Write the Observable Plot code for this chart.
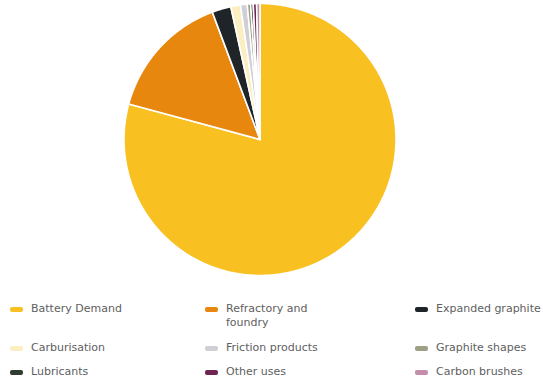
<!DOCTYPE html>
<html>
<head>
<meta charset="utf-8">
<script src="https://cdn.jsdelivr.net/npm/d3@7"></script>
<script src="https://cdn.jsdelivr.net/npm/@observablehq/plot@0.6"></script>
<style>
  html, body { margin: 0; padding: 0; background: #fff; }
  #wrap { position: relative; width: 543px; height: 380px; overflow: hidden; font-family: "DejaVu Sans", sans-serif; }
  #legend { position: absolute; left: 0; top: 0; width: 543px; }
  .item { position: absolute; font-size: 11px; line-height: 14px; color: #606060; white-space: nowrap; }
  .sw { position: absolute; width: 13px; height: 5px; border-radius: 2px; top: 5px; }
  .lbl { position: absolute; left: 21px; top: 0; }
</style>
</head>
<body>
<div id="wrap"><div id="chart"></div><div id="legend"></div></div>
<script>
// Graphite end uses (share of demand, %)
const categories = ["Battery Demand", "Refractory and foundry", "Expanded graphite", "Carburisation", "Friction products", "Graphite shapes", "Lubricants", "Other uses", "Carbon brushes"];
const shares = [79.2, 15.1, 2.25, 1.15, 0.8, 0.4, 0.3, 0.4, 0.4];
const colors = ["#F9C022", "#E8870E", "#1F2429", "#FBEFC2", "#D0CFD6", "#9DA084", "#2F3D31", "#6E2552", "#C48DAA"];
// legend label lines
const legendLines = [["Battery Demand"], ["Refractory and", "foundry"], ["Expanded graphite"], ["Carburisation"], ["Friction products"], ["Graphite shapes"], ["Lubricants"], ["Other uses"], ["Carbon brushes"]];

const data = categories.map((name, i) => ({name, value: shares[i]}));
const arcs = d3.pie().sort(null).value(d => d.value)(data);

// build slice polygons in a unit-circle plane (y up), 0 = 12 o'clock, clockwise
const pt = a => [Math.sin(a), Math.cos(a)];
const features = arcs.map(a => {
  const ring = [[0, 0]];
  const n = Math.max(2, Math.ceil((a.endAngle - a.startAngle) / 0.008));
  for (let k = 0; k <= n; k++) ring.push(pt(a.startAngle + (a.endAngle - a.startAngle) * k / n));
  ring.push([0, 0]);
  return {type: "Feature", properties: {name: a.data.name}, geometry: {type: "Polygon", coordinates: [ring]}};
});

const W = 543, H = 290;
const plot = Plot.plot({
  width: W,
  height: H,
  marginLeft: 123.5,
  marginRight: W - 123.5 - 272,
  marginTop: 3,
  marginBottom: H - 3 - 272,
  projection: {type: "reflect-y", domain: {type: "MultiPoint", coordinates: [[-1, -1], [1, 1]]}},
  color: {domain: categories, range: colors},
  marks: [
    Plot.geo(features, {fill: d => d.properties.name, stroke: "white", strokeWidth: 1.6, strokeLinejoin: "round"})
  ]
});
document.getElementById("chart").appendChild(plot);

// legend
const color = plot.scale("color");
const colX = [10, 205, 415];
const rowY = [302, 341, 365];
const legend = document.getElementById("legend");
categories.forEach((name, i) => {
  const it = document.createElement("div");
  it.className = "item";
  it.style.left = colX[i % 3] + "px";
  it.style.top = rowY[Math.floor(i / 3)] + "px";
  const sw = document.createElement("span");
  sw.className = "sw";
  sw.style.background = color.range[color.domain.indexOf(name)];
  const lb = document.createElement("span");
  lb.className = "lbl";
  lb.innerHTML = legendLines[i].join("<br>");
  it.appendChild(sw); it.appendChild(lb);
  legend.appendChild(it);
});
</script>
</body>
</html>
